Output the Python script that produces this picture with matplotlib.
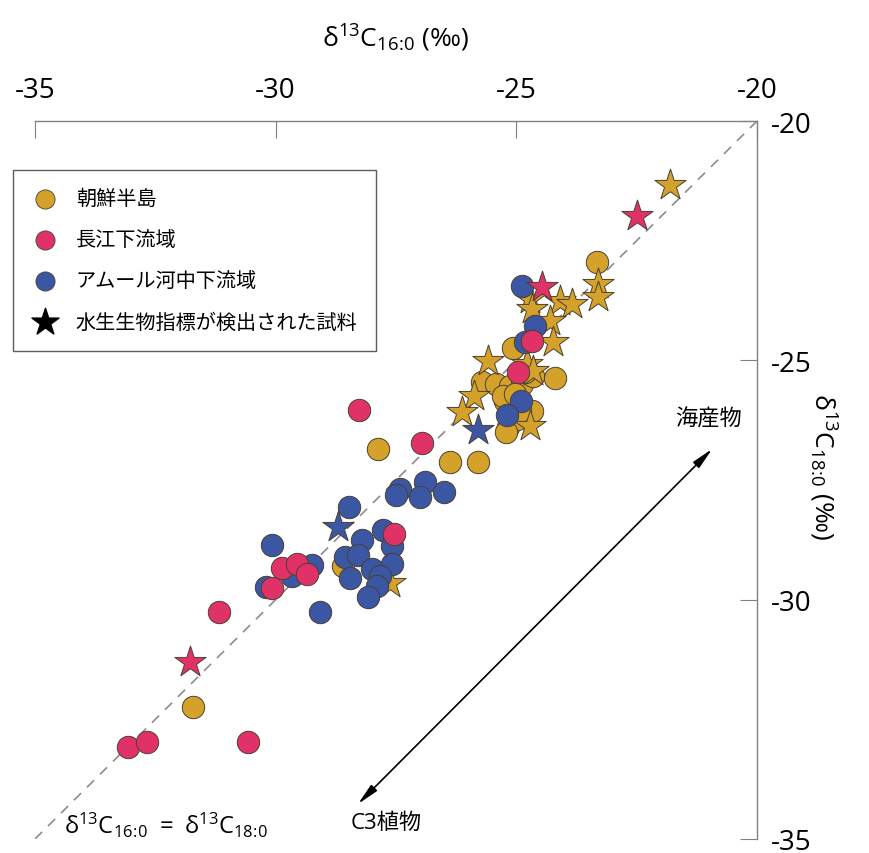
import matplotlib
matplotlib.use("Agg")
import matplotlib.pyplot as plt

plt.rcParams['font.family'] = ['Open Sans', 'Noto Sans CJK JP', 'DejaVu Sans']
plt.rcParams['mathtext.fontset'] = 'custom'
plt.rcParams['mathtext.rm'] = 'Open Sans'
plt.rcParams['mathtext.it'] = 'Open Sans'

# d13C of C16:0 (x) and C18:0 (y), per region
korea_x = [-23.32, -24.20, -27.87, -26.38, -25.80, -25.71, -25.42, -25.13, -25.23, -25.17,
           -24.99, -24.67, -24.92, -25.07, -24.88, -24.65, -25.28, -25.03, -24.82, -25.21,
           -28.60, -31.72]
korea_y = [-22.95, -25.37, -26.85, -27.12, -27.12, -25.45, -25.49, -25.54, -25.85, -26.39,
           -26.23, -26.06, -26.06, -24.74, -25.49, -25.33, -25.74, -25.70, -25.24, -26.50,
           -29.30, -32.24]
korea_star_x = [-21.81, -23.30, -23.30, -24.09, -23.84, -24.71, -24.67, -24.30, -24.24, -24.78,
                -24.65, -25.59, -25.88, -26.13, -24.72, -27.62]
korea_star_y = [-21.34, -23.41, -23.68, -23.76, -23.82, -23.72, -23.93, -24.18, -24.62, -25.08,
                -25.22, -25.01, -25.74, -26.08, -26.37, -29.65]

yangtze_x = [-28.27, -26.96, -27.54, -24.67, -24.96, -29.87, -29.56, -29.35, -30.08, -31.18,
             -33.07, -32.67, -30.57]
yangtze_y = [-26.04, -26.73, -28.63, -24.60, -25.24, -29.34, -29.25, -29.46, -29.76, -30.26,
             -33.08, -32.97, -32.97]
yangtze_star_x = [-22.49, -24.47, -31.78]
yangtze_star_y = [-21.98, -23.47, -31.30]

amur_x = [-24.88, -24.61, -24.82, -24.90, -25.19, -27.42, -27.50, -26.90, -27.00, -26.50,
          -28.48, -27.77, -28.21, -27.58, -28.56, -28.29, -28.46, -28.00, -27.58, -27.83,
          -27.89, -28.08, -29.08, -30.08, -29.24, -29.66, -30.20]
amur_y = [-23.45, -24.28, -24.62, -25.85, -26.14, -27.69, -27.81, -27.54, -27.85, -27.75,
          -28.06, -28.54, -28.75, -28.88, -29.11, -29.07, -29.55, -29.36, -29.25, -29.50,
          -29.71, -29.94, -30.26, -28.86, -29.28, -29.50, -29.73]
amur_star_x = [-25.80, -28.70]
amur_star_y = [-26.45, -28.48]

labels = ['朝鮮半島', '長江下流域', 'アムール河中下流域', '水生生物指標が検出された試料']
gold, pink, blue = '#d4a12b', '#e03268', '#3b56a3'
edge = '#4a4030'

# C16:0 / C18:0 with tighter spacing around ':'
c16 = r'\delta^{13}C_{16\!:\!0}'
c18 = r'\delta^{13}C_{18\!:\!0}'

fig = plt.figure(figsize=(8.7, 8.54), dpi=100)
ax = fig.add_axes([0.0402, 0.0164, 0.8299, 0.8407])
ax.set_xlim(-35, -20)
ax.set_ylim(-35, -20)

# 1:1 line
ax.plot([-35, -20], [-35, -20], ls=(0, (6, 5)), color='#8c8c8c', lw=1.2, zorder=1)

circ = dict(s=260, edgecolors=edge, linewidths=0.7, marker='o')
star = dict(s=560, edgecolors=edge, linewidths=0.7, marker='*')
ax.scatter(korea_x, korea_y, c=gold, zorder=2, **circ)
ax.scatter(korea_star_x, korea_star_y, c=gold, zorder=3, **star)
ax.scatter(amur_x, amur_y, c=blue, zorder=4, **circ)
ax.scatter(amur_star_x, amur_star_y, c=blue, zorder=4, **star)
ax.scatter(yangtze_x, yangtze_y, c=pink, zorder=5, **circ)
ax.scatter(yangtze_star_x, yangtze_star_y, c=pink, zorder=5, **star)

# legend handles
h1 = ax.scatter([], [], c=gold, s=190, edgecolors=edge, linewidths=0.6)
h2 = ax.scatter([], [], c=pink, s=190, edgecolors=edge, linewidths=0.6)
h3 = ax.scatter([], [], c=blue, s=190, edgecolors=edge, linewidths=0.6)
h4 = ax.scatter([], [], c='black', s=420, marker='*')
leg = ax.legend([h1, h2, h3, h4], labels, loc='upper left',
                bbox_to_anchor=(-0.030, 0.932), frameon=True,
                fancybox=False, edgecolor='#333333', borderpad=0.9,
                labelspacing=1.0, handletextpad=0.9, handlelength=1.3,
                borderaxespad=0.0,
                prop={'family': ['Noto Sans CJK JP'], 'size': 14.5})
leg.get_frame().set_linewidth(1.0)

# axes on top and right
for s in ['left', 'bottom']:
    ax.spines[s].set_visible(False)
for s in ['top', 'right']:
    ax.spines[s].set_color('#808080')
    ax.spines[s].set_linewidth(1.0)
ax.xaxis.tick_top()
ax.yaxis.tick_right()
ax.set_xticks([-35, -30, -25, -20])
ax.set_yticks([-35, -30, -25, -20])
ax.set_xticklabels(['-35', '-30', '-25', '-20'])
ax.set_yticklabels(['-35', '-30', '-25', '-20'])
ax.tick_params(axis='x', direction='in', length=12, width=0.8, color='#808080',
               labelsize=20, pad=12)
ax.tick_params(axis='y', direction='in', length=12, width=0.8, color='#808080',
               labelsize=20, pad=10)

ax.xaxis.set_label_position('top')
ax.set_xlabel(r'$\mathregular{' + c16 + r'}$ (‰)', fontsize=19, labelpad=22)
ax.yaxis.set_label_position('right')
ax.set_ylabel(r'$\mathregular{' + c18 + r'}$ (‰)', fontsize=19, rotation=-90,
              labelpad=-18)
ax.yaxis.set_label_coords(1.113, 0.52)

# direction arrow between C3 plants and marine foods
ax.annotate('', xy=(-20.93, -26.85), xytext=(-28.29, -34.27),
            arrowprops=dict(arrowstyle='<|-|>,head_length=1.3,head_width=0.25',
                            color='black', lw=1.2, shrinkA=0, shrinkB=0))
ax.text(-21.0, -26.2, '海産物', fontsize=16, ha='center', va='center',
        family=['Noto Sans CJK JP'])
ax.text(-27.7, -34.65, 'C3植物', fontsize=16, ha='center', va='center',
        family=['Open Sans', 'Noto Sans CJK JP'])
ax.text(-34.4, -34.7, r'$\mathregular{' + c16 + r'\ =\ ' + c18 + r'}$',
        fontsize=17, ha='left', va='center')

fig.savefig('out.png', dpi=100)
